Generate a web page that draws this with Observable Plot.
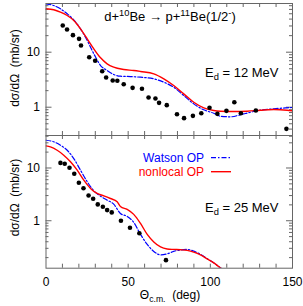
<!DOCTYPE html>
<html><head><meta charset="utf-8">
<script src="https://cdn.jsdelivr.net/npm/d3@7"></script>
<script src="https://cdn.jsdelivr.net/npm/@observablehq/plot@0.6"></script>
<style>
body{margin:0;background:#fff}
#c{position:relative;width:303px;height:306px;overflow:hidden;font-family:"Liberation Sans",Arial,sans-serif}
#c svg{position:absolute;left:0;overflow:visible}
</style></head><body><div id="c"></div>
<script>
// ---------- data ----------
const xTickLabels = [0, 50, 100, 150];
const yTickLabels = [1, 10];

// Ed = 12 MeV, experimental points
const exp12Angle = [10.2,12.8,16.4,20.1,21.3,26.3,29.9,34.2,36.6,40.6,43.4,47.3,52.7,58.4,62.4,66.6,68.8,73.5,79.7,84.0,89.4,94.5,99.5,104.3,109.8,114.6,118.6,127.7,146.3];
const exp12Sigma = [30.6,25.9,20.4,17.5,13.2,8.1,7.0,4.5,3.47,3.06,3.02,2.62,2.25,2.16,1.50,1.44,1.20,1.09,0.747,0.632,0.697,0.778,0.975,0.757,0.859,1.23,0.778,0.871,0.404];
// Ed = 12 MeV, nonlocal OP
const nl12Angle = [0,4.7,8.8,12.9,16.9,21.0,25.1,29.1,33.2,37.2,41.2,47.3,53.4,57.5,65.6,71.7,77.7,83.8,89.9,96.0,102.1,106.1,114.2,122.4,130.5,138.6,146.7,150];
const nl12Sigma = [61.5,59,53.4,46.5,37.7,26.6,17.5,11.5,7.9,6.15,5.34,4.85,4.65,4.46,4.05,3.28,2.48,1.75,1.23,0.975,0.871,0.846,0.835,0.846,0.882,0.908,0.882,0.86];
// Ed = 12 MeV, Watson OP
const w12Angle = [0,4.7,8.8,12.9,16.9,21.0,25.1,29.1,33.2,37.2,41.2,45.3,51.4,57.5,65.6,71.7,77.7,83.8,89.9,96.0,102.1,106.1,112.2,118.3,124.4,130.5,138.6,146.7,150];
const w12Sigma = [75.9,70.6,61.5,49.9,38.8,26.6,16.3,9.35,5.73,4.65,3.93,3.66,3.61,3.51,3.28,2.85,2.31,1.63,1.15,0.897,0.778,0.686,0.669,0.728,0.811,0.882,0.935,0.975,0.99];

// Ed = 25 MeV, experimental points
const exp25Angle = [8.8,11.4,14.3,17.2,20.0,22.8,25.9,28.7,31.5,34.6,37.2,40.0,45.6,51.1,56.8,73.0];
const exp25Sigma = [12.5,12.0,10.1,7.76,5.25,4.14,3.01,2.61,2.04,1.84,1.59,1.44,1.0,0.736,0.58,0.179];
// Ed = 25 MeV, nonlocal OP
const nl25Angle = [0,2.7,6.8,10.8,14.9,19.0,23.0,27.1,31.1,35.2,39.2,43.3,45.3,49.4,53.4,57.5,61.6,65.6,69.7,73.7,77.7,81.8,85.9,89.9,94.0,98.1,102.1,106.1,109.2];
const nl25Sigma = [26.3,25.2,21.7,17.5,13.1,9.08,5.87,4.09,3.29,2.97,2.64,2.29,1.87,1.64,1.32,0.889,0.551,0.397,0.319,0.292,0.286,0.282,0.274,0.254,0.225,0.189,0.159,0.128,0.110];
// Ed = 25 MeV, Watson OP
const w25Angle = [0,4.7,8.8,12.9,16.9,21.0,25.1,29.1,33.2,37.2,41.2,45.3,49.4,53.4,57.5,61.6,65.6,69.7,73.7,77.7,81.8,85.9,89.9,94.0,98.1,102.1,106.1,109.2];
const w25Sigma = [33.6,31.4,27.0,21.7,15.1,9.08,5.48,3.70,2.92,2.46,2.06,1.37,1.21,0.929,0.551,0.356,0.262,0.225,0.235,0.262,0.280,0.286,0.266,0.230,0.191,0.159,0.128,0.110];

// ---------- layout ----------
const W = 303, mL = 45.5, mR = 11;
const frameColor = "#666";
const font = "'Liberation Sans', Arial, sans-serif";
const xMinor = d3.range(10, 150, 10);
function logMinor(lo, hi) {
  const out = [];
  for (let e = -2; e <= 2; e++) for (let k = 2; k <= 9; k++) { const v = k * 10 ** e; if (v > lo && v < hi) out.push(v); }
  return out;
}

function panel({height, mt, mb, yDomain, expA, expS, nlA, nlS, wA, wS, xAxis}) {
  const H = height - mt - mb, FW = W - mL - mR;
  const minor = logMinor(yDomain[0], yDomain[1]);
  const marks = [
    Plot.ruleX(xMinor, {x: d => d, insetTop: H - 4, stroke: frameColor}),
    Plot.ruleX(xMinor, {x: d => d, insetBottom: H - 4, stroke: frameColor}),
    Plot.ruleY(minor, {y: d => d, insetRight: FW - 3, stroke: frameColor}),
    Plot.ruleY(minor, {y: d => d, insetLeft: FW - 3, stroke: frameColor}),
    Plot.ruleY(yTickLabels, {y: d => d, insetRight: FW - 6, stroke: frameColor}),
    Plot.ruleY(yTickLabels, {y: d => d, insetLeft: FW - 6, stroke: frameColor}),
    Plot.axisY({ticks: yTickLabels, tickSize: 0, tickPadding: 6, tickFormat: d3.format("~g"), label: null, fontSize: 12}),
    Plot.line(wA, {x: wA, y: wS, stroke: "#0000ff", strokeWidth: 1.2, strokeDasharray: "5,2,1.5,2", curve: "monotone-x", clip: true}),
    Plot.line(nlA, {x: nlA, y: nlS, stroke: "#ff0000", strokeWidth: 1.4, curve: "monotone-x", clip: true}),
    Plot.dot(expA, {x: expA, y: expS, r: 2.3, fill: "black", stroke: "none"}),
    Plot.frame({stroke: frameColor})
  ];
  if (xAxis) marks.push(Plot.axisX({ticks: xTickLabels, tickSize: 0, tickPadding: 9, label: null, fontSize: 12}));
  return Plot.plot({
    width: W, height, marginTop: mt, marginBottom: mb, marginLeft: mL, marginRight: mR,
    x: {domain: [0, 150], axis: xAxis ? undefined : null},
    y: {type: "log", domain: yDomain},
    style: {background: "transparent", fontFamily: font, fontSize: "12px", color: "black"},
    marks
  });
}

function addText(svg, {x, y, anchor = "start", rotate = 0, parts, fill = "black", size = 12}) {
  const t = d3.select(svg).append("text")
    .attr("transform", `translate(${x},${y}) rotate(${rotate})`)
    .attr("text-anchor", anchor).attr("fill", fill)
    .style("font-size", size + "px").style("font-family", font).style("white-space", "pre");
  let off = 0;
  for (const p of parts) {
    const target = p.s === "sup" ? -5 : p.s === "sub" ? 3 : 0;
    const ts = t.append("tspan").text(p.t).attr("dy", target - off);
    if (p.s) ts.style("font-size", (size * 0.72) + "px");
    off = target;
  }
}

const c = document.getElementById("c");

const topSvg = panel({height: 138, mt: 3, mb: 3, yDomain: [0.306, 76.8],
  expA: exp12Angle, expS: exp12Sigma, nlA: nl12Angle, nlS: nl12Sigma, wA: w12Angle, wS: w12Sigma, xAxis: false});
topSvg.style.top = "0px";
c.appendChild(topSvg);

const botSvg = panel({height: 174, mt: 3, mb: 38.3, yDomain: [0.126, 41.3],
  expA: exp25Angle, expS: exp25Sigma, nlA: nl25Angle, nlS: nl25Sigma, wA: w25Angle, wS: w25Sigma, xAxis: true});
botSvg.style.top = "132px";
c.appendChild(botSvg);

// annotations, top panel
addText(topSvg, {x: 170, y: 20.7, anchor: "middle", size: 13, parts: [{t: "d+"}, {t: "10", s: "sup"}, {t: "Be \u2192 p+"}, {t: "11", s: "sup"}, {t: "Be(1/2"}, {t: "-", s: "sup"}, {t: ")"}]});
addText(topSvg, {x: 205, y: 77.3, size: 13, parts: [{t: "E"}, {t: "d", s: "sub"}, {t: " = 12 MeV"}]});
addText(topSvg, {x: 19, y: 68, anchor: "middle", rotate: -90, parts: [{t: "d\u03c3/d\u03a9  (mb/sr)"}]});

// annotations, bottom panel (offset 132)
addText(botSvg, {x: 204, y: 29.7, anchor: "end", fill: "#0000ff", parts: [{t: "Watson OP"}]});
addText(botSvg, {x: 204, y: 43.5, anchor: "end", fill: "#ff0000", parts: [{t: "nonlocal OP"}]});
d3.select(botSvg).append("line").attr("x1", 211).attr("x2", 231).attr("y1", 25.7).attr("y2", 25.7)
  .attr("stroke", "#0000ff").attr("stroke-width", 1.2).attr("stroke-dasharray", "5,2,1.5,2");
d3.select(botSvg).append("line").attr("x1", 211).attr("x2", 231).attr("y1", 39.7).attr("y2", 39.7)
  .attr("stroke", "#ff0000").attr("stroke-width", 1.4);
addText(botSvg, {x: 205, y: 79.7, size: 13, parts: [{t: "E"}, {t: "d", s: "sub"}, {t: " = 25 MeV"}]});
addText(botSvg, {x: 19, y: 65.5, anchor: "middle", rotate: -90, parts: [{t: "d\u03c3/d\u03a9  (mb/sr)"}]});
addText(botSvg, {x: 170, y: 167.3, anchor: "middle", parts: [{t: "\u0398"}, {t: "c.m.", s: "sub"}, {t: "  (deg)"}]});
</script>
</body></html>
